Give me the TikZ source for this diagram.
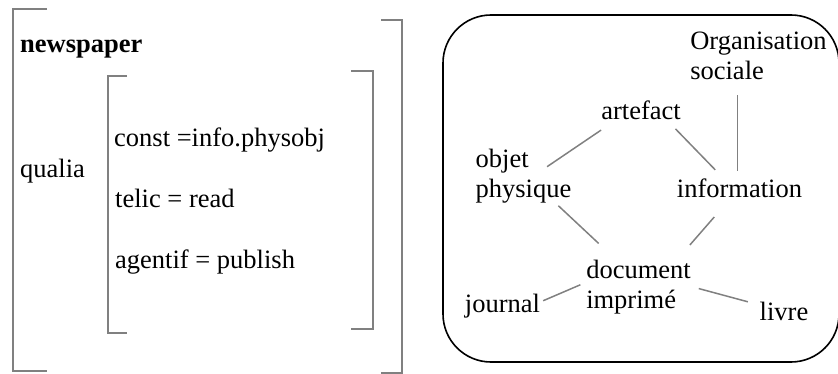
\documentclass[tikz,border=0pt]{standalone}
\usepackage{fontspec}
\setmainfont{Liberation Serif}
\begin{document}
\begin{tikzpicture}[x=1pt, y=-1pt,
    word/.style={inner sep=2pt, align=left, font=\fontsize{26.5}{30}\selectfont},
    feat/.style={word, anchor=base west},
    link/.style={draw=gray, line width=1.5pt},
    brack/.style={draw=gray, line width=1.8pt}]
  \def\arm{34}
  \def\inarm{19}
  \useasboundingbox (0,0) rectangle (838,374);

  % feature structure
  \draw [brack] (13+\arm,9) -- (13,9) -- (13,371) -- (13+\arm,371) ;
  \draw [brack] (402-\arm+13,20) -- (402,20) -- (402,373) -- (402-\arm+13,373) ;
  \draw [brack] (108+\inarm,76) -- (108,76) -- (108,333) -- (108+\inarm,333) ;
  \draw [brack] (373-\inarm-3,71) -- (373,71) -- (373,329) -- (373-\inarm-3,329) ;

  \node [feat] (head) at (18,53) {\textbf{newspaper}} ;
  \node [feat] (qualia) at (18,178) {qualia} ;
  \node [feat] (const) at (112,147) {const =info.physobj} ;
  \node [feat] (telic) at (113,208) {telic = read} ;
  \node [feat] (agent) at (113,268) {agentif = publish} ;

  % ontology
  \draw [line width=1.6pt, rounded corners=48] (443,15) rectangle (839,362) ;

  \node [word] (org) at (758.5,56) {Organisation\\sociale} ;
  \node [word] (art) at (641,110) {artefact} ;
  \node [word] (obj) at (523.5,176.5) {objet\\physique} ;
  \node [word] (info) at (739.5,188) {information} ;
  \node [word] (doc) at (638.5,287) {document\\imprim\'e} ;
  \node [word] (jour) at (502.5,306) {journal} ;
  \node [word] (livre) at (784,311) {livre} ;

  \draw [link, shorten <=15, shorten >=-32] (art.203) -- (obj.29) ;
  \draw [link, shorten <=10, shorten >=9] (art.337) -- (info.147) ;
  \draw [link, shorten <=13, shorten >=5] (org.south -| info.99) -- (info.99) ;
  \draw [link, shorten <=0, shorten >=21] (obj.320) -- (doc.130) ;
  \draw [link, shorten <=23, shorten >=17] (info.229) -- (doc.36) ;
  \draw [link, shorten <=1, shorten >=4] (jour.7) -- (doc.176) ;
  \draw [link, shorten <=6, shorten >=10] (doc.east) -- (livre.166) ;
\end{tikzpicture}
\end{document}
